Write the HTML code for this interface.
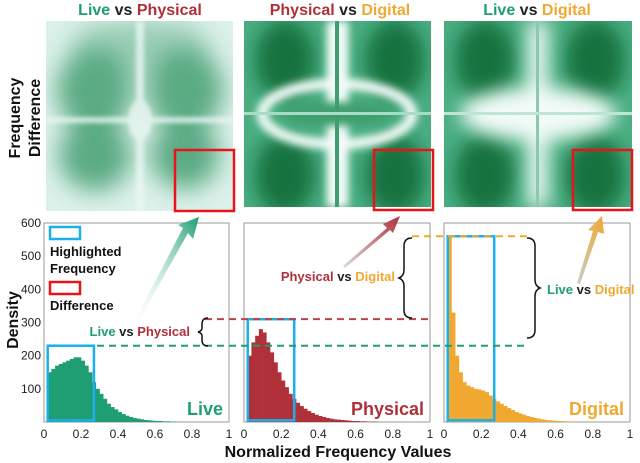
<!DOCTYPE html>
<html><head><meta charset="utf-8"><style>
body{margin:0;background:#fff;}
svg{display:block;font-family:"Liberation Sans",sans-serif;}
</style></head><body>
<svg id="fig" width="640" height="463" viewBox="0 0 640 463">
<defs>
<filter id="b12" x="-50%" y="-50%" width="200%" height="200%"><feGaussianBlur stdDeviation="12"/></filter>
<filter id="b8" x="-50%" y="-50%" width="200%" height="200%"><feGaussianBlur stdDeviation="9"/></filter>
<filter id="b4" x="-50%" y="-50%" width="200%" height="200%"><feGaussianBlur stdDeviation="4"/></filter>
<filter id="b2" x="-50%" y="-50%" width="200%" height="200%"><feGaussianBlur stdDeviation="2"/></filter>
<linearGradient id="ga" x1="0" y1="1" x2="1" y2="0"><stop offset="0" stop-color="#fff" stop-opacity="0.2"/><stop offset="1" stop-color="#1e9e72"/></linearGradient>
<linearGradient id="ra" x1="0" y1="1" x2="1" y2="0"><stop offset="0" stop-color="#ddd"/><stop offset="1" stop-color="#b0303a"/></linearGradient>
<linearGradient id="oa" x1="0" y1="1" x2="1" y2="0"><stop offset="0" stop-color="#ccc"/><stop offset="1" stop-color="#f0a830"/></linearGradient>
<clipPath id="c1"><rect x="46" y="21" width="187" height="190"/></clipPath>
<clipPath id="c2"><rect x="244" y="21" width="187" height="186"/></clipPath>
<clipPath id="c3"><rect x="444" y="21" width="188" height="186"/></clipPath>
</defs>

<text x="140" y="15" text-anchor="middle" font-size="16" font-weight="bold"><tspan fill="#1e9e72">Live</tspan><tspan fill="#222"> vs </tspan><tspan fill="#b0303a">Physical</tspan></text>
<text x="340" y="15" text-anchor="middle" font-size="16" font-weight="bold"><tspan fill="#b0303a">Physical</tspan><tspan fill="#222"> vs </tspan><tspan fill="#f0a830">Digital</tspan></text>
<text x="537" y="15" text-anchor="middle" font-size="16" font-weight="bold"><tspan fill="#1e9e72">Live</tspan><tspan fill="#222"> vs </tspan><tspan fill="#f0a830">Digital</tspan></text>
<text transform="translate(20,118) rotate(-90)" text-anchor="middle" font-size="16" font-weight="bold" fill="#111">Frequency</text>
<text transform="translate(40,118) rotate(-90)" text-anchor="middle" font-size="16" font-weight="bold" fill="#111">Difference</text>

<g clip-path="url(#c1)">
<rect x="46" y="21" width="187" height="190" fill="#dcf1ea"/>
<g filter="url(#b12)" fill="#3a9a6a" opacity="0.8">
<ellipse cx="95" cy="90" rx="38" ry="42"/><ellipse cx="185" cy="90" rx="38" ry="42"/>
<ellipse cx="95" cy="155" rx="36" ry="36"/><ellipse cx="185" cy="155" rx="34" ry="34"/>
<ellipse cx="140" cy="45" rx="70" ry="25" opacity="0.5"/>
</g>
<g filter="url(#b2)" fill="#eaf7f3" opacity="0.8"><rect x="136" y="21" width="8" height="190"/><rect x="46" y="117" width="187" height="6"/><ellipse cx="140" cy="120" rx="12" ry="20"/></g>
</g>
<g clip-path="url(#c2)">
<rect x="244" y="21" width="187" height="186" fill="#4aae82"/>
<g filter="url(#b8)" fill="#17733f"><ellipse cx="285" cy="60" rx="30" ry="40"/><ellipse cx="395" cy="60" rx="30" ry="40"/><ellipse cx="285" cy="175" rx="30" ry="40"/><ellipse cx="395" cy="175" rx="30" ry="40"/></g>
<g filter="url(#b4)" fill="none" stroke="#f2fbf8" stroke-width="11"><ellipse cx="337" cy="114" rx="75" ry="30"/><line x1="332" y1="21" x2="332" y2="207"/><line x1="343" y1="21" x2="343" y2="207"/></g>
<g filter="url(#b4)"><ellipse cx="337" cy="114" rx="55" ry="12" fill="#3f9e70"/></g>
<rect x="335" y="21" width="4" height="186" fill="#3f9e70"/>
<rect x="244" y="112" width="187" height="3" fill="#a8dcc6"/>
</g>
<g clip-path="url(#c3)">
<rect x="444" y="21" width="188" height="186" fill="#4aae82"/>
<g filter="url(#b8)" fill="#17733f"><ellipse cx="485" cy="60" rx="30" ry="40"/><ellipse cx="595" cy="60" rx="30" ry="40"/><ellipse cx="485" cy="175" rx="30" ry="40"/><ellipse cx="595" cy="175" rx="30" ry="40"/></g>
<g filter="url(#b8)" fill="#f2fbf8"><ellipse cx="538" cy="114" rx="78" ry="26"/><rect x="528" y="21" width="20" height="186"/></g>
<rect x="536" y="21" width="3" height="186" fill="#8cc9ae"/>
<rect x="444" y="112" width="188" height="3" fill="#bfe5d4"/>
</g>
<rect x="175" y="150" width="59" height="61" fill="none" stroke="#e8141c" stroke-width="2.5"/>
<rect x="374" y="150" width="59" height="60" fill="none" stroke="#e8141c" stroke-width="2.5"/>
<rect x="573" y="150" width="59" height="60" fill="none" stroke="#e8141c" stroke-width="2.5"/>

<g id="charts"></g>

<polygon points="135,320 183,228 178,225 199,217 193,239 188,233 138,322" fill="url(#ga)"/>
<polygon points="343,266 387,228 383,224 400,216 393,233 390,230 345,268" fill="url(#ra)"/>
<polygon points="577,283 593,231 588,230 602,216 604,234 598,232 580,284" fill="url(#oa)"/>

<rect x="50" y="227" width="30" height="12" fill="none" stroke="#1ab0ea" stroke-width="2.5"/>
<text x="50" y="256" font-size="13" font-weight="bold" fill="#111">Highlighted</text>
<text x="50" y="273" font-size="13" font-weight="bold" fill="#111">Frequency</text>
<rect x="50" y="282" width="30" height="12" fill="none" stroke="#e8141c" stroke-width="2.5"/>
<text x="50" y="310" font-size="13" font-weight="bold" fill="#111">Difference</text>

<text x="190" y="336" text-anchor="end" font-size="13" font-weight="bold"><tspan fill="#1e9e72">Live</tspan><tspan fill="#222"> vs </tspan><tspan fill="#b0303a">Physical</tspan></text>
<text x="395" y="281" text-anchor="end" font-size="13" font-weight="bold"><tspan fill="#b0303a">Physical</tspan><tspan fill="#222"> vs </tspan><tspan fill="#f0a830">Digital</tspan></text>
<text x="547" y="294" font-size="13" font-weight="bold"><tspan fill="#1e9e72">Live</tspan><tspan fill="#222"> vs </tspan><tspan fill="#f0a830">Digital</tspan></text>
<path d="M208,318 q-6,0 -6,6 v4 q0,3 -4,4 q4,1 4,4 v4 q0,6 6,6" fill="none" stroke="#111" stroke-width="1.5"/>
<path d="M412,238 q-8,0 -8,8 v24 q0,6 -5,8 q5,2 5,8 v24 q0,8 8,8" fill="none" stroke="#111" stroke-width="1.5"/>
<path d="M527,238 q8,0 8,8 v34 q0,6 5,8 q-5,2 -5,8 v34 q0,8 -8,8" fill="none" stroke="#111" stroke-width="1.5"/>

<text x="14" y="320" transform="rotate(-90,14,320)" text-anchor="middle" dominant-baseline="middle" font-size="16" font-weight="bold" fill="#111">Density</text>
<text x="338" y="457" text-anchor="middle" font-size="16" font-weight="bold" fill="#111">Normalized Frequency Values</text>
</svg>
<script>
const binStarts=[0.02,0.04,0.06,0.08,0.10,0.12,0.14,0.16,0.18,0.20,0.22,0.24,0.26,0.28,0.30,0.32,0.34,0.36,0.38,0.40,0.42,0.44,0.46,0.48,0.50,0.52,0.54,0.56,0.58,0.60,0.62,0.64,0.66,0.68,0.70];
const liveVals=[150,160,170,175,180,185,190,195,195,185,170,150,120,100,85,70,55,45,38,30,24,19,15,12,10,8,6,5,4,3,3,2,2,1,1];
const physVals=[200,240,260,280,270,240,210,180,150,125,105,85,70,58,48,40,33,27,22,18,15,12,10,8,7,6,5,4,3,3,2,2,1,1,1];
const digiVals=[560,330,200,150,120,110,105,100,98,95,90,80,70,62,55,48,42,36,30,26,22,18,15,12,10,8,6,5,4,3,3,2,2,1,1];
const yTicks=[100,200,300,400,500,600];
const xTicks=[0,0.2,0.4,0.6,0.8,1];
const xTickLabels=["0","0.2","0.4","0.6","0.8","1"];
const panelNames=["Live","Physical","Digital"];
const panelColors=["#1e9e72","#b0303a","#f0a830"];
const boxTops=[230,310,560];
const NS="http://www.w3.org/2000/svg";
const g=document.getElementById('charts');
const panels=[{x0:44,x1:229},{x0:244,x1:430},{x0:444,x1:630}];
const yTop=223,yBot=422,yMax=600;
const ys=v=>yBot-v/yMax*(yBot-yTop);
function mk(t,a){const e=document.createElementNS(NS,t);for(const k in a)e.setAttribute(k,a[k]);g.appendChild(e);return e;}
const series=[liveVals,physVals,digiVals];
panels.forEach((p,i)=>{
  const xs=v=>p.x0+v*(p.x1-p.x0);
  const fr=mk('rect',{x:p.x0,y:yTop,width:p.x1-p.x0,height:yBot-yTop,fill:'none',stroke:'#999','stroke-width':1});
  
  
  series[i].forEach((v,j)=>{
    const r=mk('rect',{x:xs(binStarts[j]),y:ys(v),width:xs(0.02)-xs(0)+0.3,height:yBot-ys(v),fill:panelColors[i]});
    
    
  });
  xTicks.forEach((t,j)=>{
    const tx=mk('text',{x:xs(t),y:438,'text-anchor':'middle','font-size':12,fill:'#222'});
    tx.textContent=xTickLabels[j];
    
    
  });
  if(i===0){
    yTicks.forEach(t=>{
      const tx=mk('text',{x:p.x0-3,y:ys(t)+4,'text-anchor':'end','font-size':12,fill:'#222'});
      tx.textContent=t;
      
      
    });
  }
  const b=mk('rect',{x:xs(0.02),y:ys(boxTops[i]),width:xs(0.27)-xs(0.02),height:ys(5)-ys(boxTops[i]),fill:'none',stroke:'#1ab0ea','stroke-width':2.5});
  
  
  const lb=mk('text',{x:p.x1-6,y:415,'text-anchor':'end','font-size':18,'font-weight':'bold',fill:panelColors[i]});
  lb.textContent=panelNames[i];
  
  
});
function dash(x1,x2,v,c,n){const l=mk('line',{x1:x1,x2:x2,y1:ys(v),y2:ys(v),stroke:c,'stroke-width':2,'stroke-dasharray':'7,5'});

}
dash(97,527,boxTops[0],'#1e9e72','dash-live');
dash(205,430,boxTops[1],'#c0404a','dash-physical');
dash(412,527,boxTops[2],'#f0a830','dash-digital');
</script>
</body></html>
